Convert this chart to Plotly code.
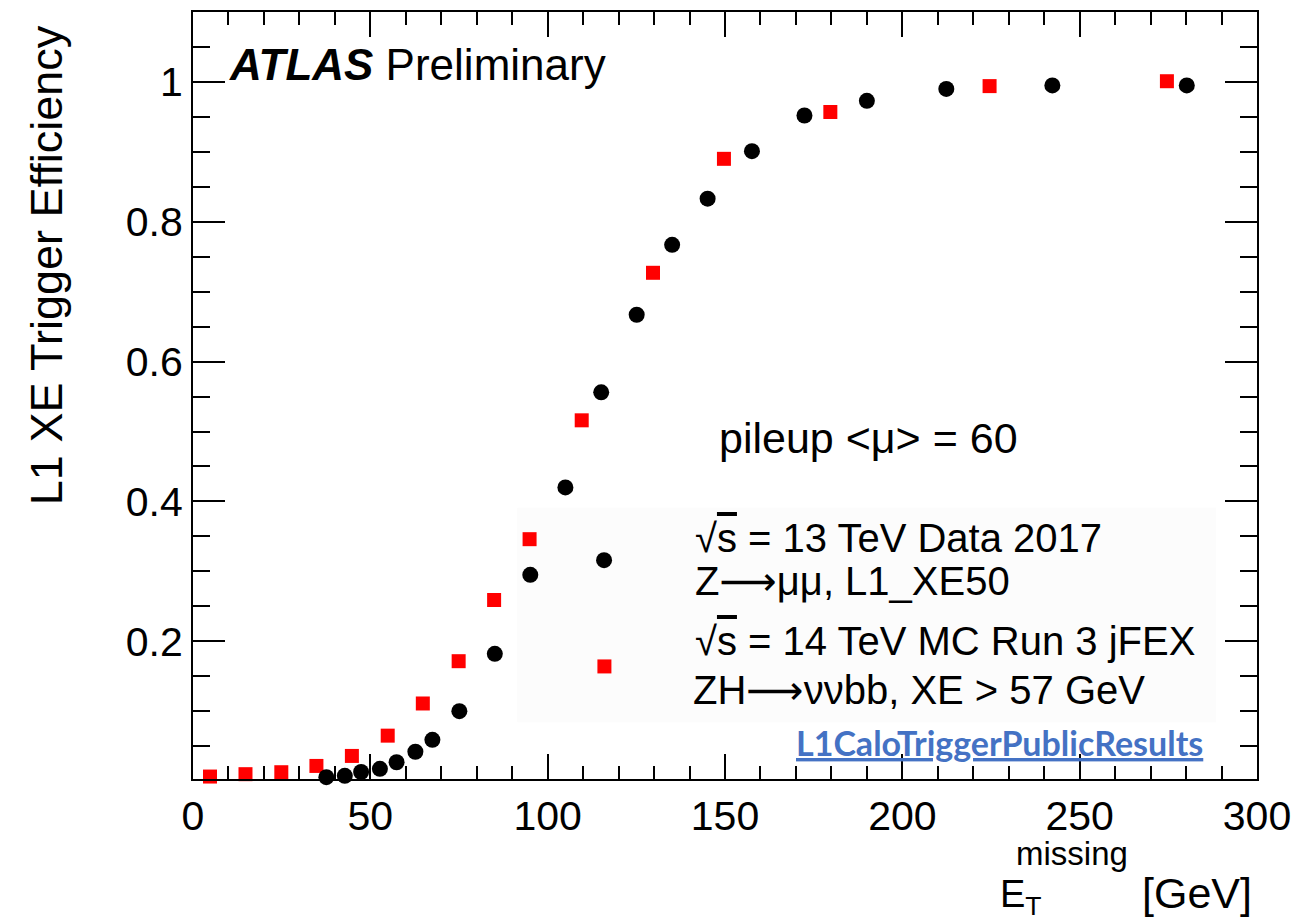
import plotly.graph_objects as go

# ---------------- data ----------------
data_x = [37.6, 42.8, 47.4, 52.7, 57.4, 62.7, 67.5, 75.1, 85.1, 95.1, 105.0,
          115.1, 115.9, 125.1, 135.1, 145.1, 157.6, 172.4, 190.0, 212.4, 242.3, 280.2]
data_y = [0.0056, 0.0075, 0.013, 0.0175, 0.027, 0.042, 0.059, 0.100, 0.182, 0.295, 0.420,
          0.556, 0.316, 0.667, 0.767, 0.833, 0.901, 0.952, 0.973, 0.990, 0.995, 0.995]

mc_x = [4.8, 14.8, 24.9, 34.8, 44.8, 54.9, 64.8, 74.9, 84.9, 94.9, 109.6,
        116.0, 129.7, 149.7, 179.7, 224.6, 274.6]
mc_y = [0.0065, 0.0099, 0.0127, 0.0217, 0.036, 0.065, 0.111, 0.1715, 0.259, 0.346, 0.516,
        0.164, 0.727, 0.890, 0.957, 0.994, 1.001]

y_tickvals = [0.2, 0.4, 0.6, 0.8, 1.0]
y_ticktext = ["0.2", "0.4", "0.6", "0.8", "1"]
x_tickvals = [0, 50, 100, 150, 200, 250, 300]
x_ticktext = ["0", "50", "100", "150", "200", "250", "300"]

# ---------------- layout geometry ----------------
W, H = 1301, 920
L, R, T, B = 193, 1263, 10, 779


def px(x):
    return (x - L) / (R - L)


def py(y):
    return (B - y) / (B - T)


FONT = "Liberation Sans, Arial, Helvetica, sans-serif"
ARROW = "<span style='font-family:DejaVu Sans'>⟶</span>"
SQRT_S = "√<span style='text-decoration:overline'>s</span>"

fig = go.Figure()
fig.add_trace(go.Scatter(x=mc_x, y=mc_y, mode="markers", cliponaxis=False,
                         marker=dict(symbol="square", size=14, color="#ff0000",
                                     line=dict(width=0)),
                         name="MC"))
fig.add_trace(go.Scatter(x=data_x, y=data_y, mode="markers", cliponaxis=False,
                         marker=dict(symbol="circle", size=16, color="#000000",
                                     line=dict(width=0)),
                         name="Data"))

axis_common = dict(showline=True, linecolor="#000000", linewidth=2, mirror="allticks",
                   ticks="inside", tickcolor="#000000", tickwidth=2,
                   showgrid=False, zeroline=False,
                   tickfont=dict(family=FONT, size=41, color="#000000"))

fig.update_xaxes(range=[0, 300], tickmode="array", tickvals=x_tickvals, ticktext=x_ticktext,
                 ticklen=25,
                 minor=dict(ticks="inside", tickmode="linear", tick0=0, dtick=10,
                            ticklen=13, tickwidth=2, tickcolor="#000000", showgrid=False),
                 **axis_common)
fig.update_yaxes(range=[0.003, 1.1], tickmode="array", tickvals=y_tickvals, ticktext=y_ticktext,
                 ticklen=32,
                 minor=dict(ticks="inside", tickmode="linear", tick0=0, dtick=0.05,
                            ticklen=17, tickwidth=2, tickcolor="#000000", showgrid=False),
                 **axis_common)

# faint legend background box
fig.add_shape(type="rect", xref="paper", yref="paper",
              x0=px(519), x1=px(1222), y0=py(722), y1=py(507),
              fillcolor="#fcfcfc", line=dict(width=0), layer="below")

ann = []


def text(x, y, s, size, xanchor="left", yanchor="middle", family=FONT, color="#000000",
         angle=0, pad=1):
    ann.append(dict(xref="paper", yref="paper", x=px(x), y=py(y), text=s,
                    showarrow=False, xanchor=xanchor, yanchor=yanchor, textangle=angle,
                    borderpad=pad,
                    font=dict(family=family, size=size, color=color)))


text(227, 63, "<b><i>ATLAS</i></b> Preliminary", 44)
text(720, 437, "pileup &lt;μ&gt; = 60", 43)
text(696, 537, SQRT_S + " = 13 TeV Data 2017", 40)
text(696, 580, "Z" + ARROW + "μμ, L1_XE50", 40)
text(696, 641, SQRT_S + " = 14 TeV MC Run 3 jFEX", 40)
text(694, 690, "ZH" + ARROW + "ννbb, XE &gt; 57 GeV", 40)
text(1211, 742, "<b><u>L1CaloTriggerPublicResults</u></b>", 34, xanchor="right",
     family="Lato, Open Sans, sans-serif", color="#4472C4")

# y-axis title (ROOT style: aligned to the top end)
text(46, 264, "L1 XE Trigger Efficiency", 45, xanchor="center", angle=-90)

# x-axis title: E_T^missing [GeV]
text(1004, 872, "E<sub>T</sub>", 38, yanchor="top", pad=0)
text(1020, 873, "missing", 33, yanchor="bottom", pad=0)
text(1260, 893, "[GeV]", 43, xanchor="right")

fig.update_layout(width=W, height=H, margin=dict(l=L, r=W - R, t=T, b=H - B),
                  paper_bgcolor="#ffffff", plot_bgcolor="#ffffff",
                  showlegend=False, annotations=ann)

fig.write_html("out.html")
